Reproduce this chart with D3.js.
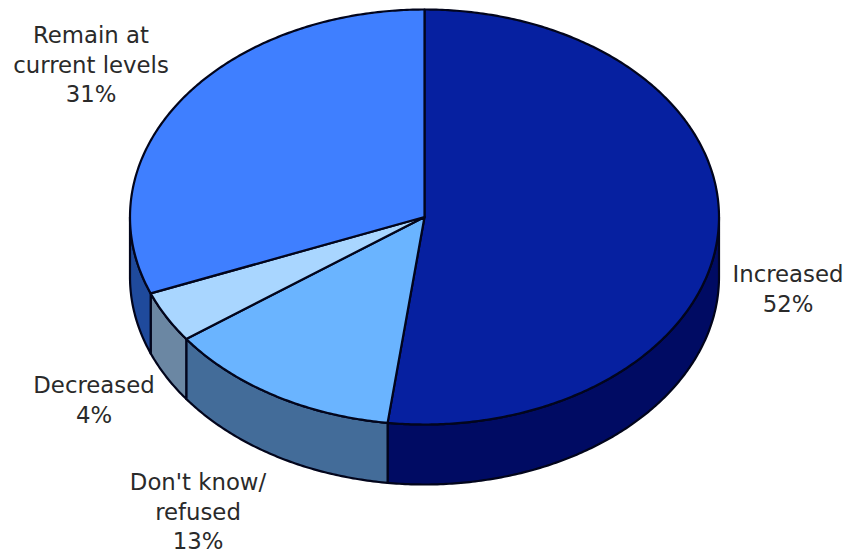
<!DOCTYPE html>
<html><head><meta charset="utf-8">
<script src="https://cdn.jsdelivr.net/npm/d3@7"></script>
<style>html,body{margin:0;background:#fff}svg{display:block}</style></head>
<body><script>
const categories = ["Increased","Don't know/refused","Decreased","Remain at current levels"];
const values = [52,13,4,31];
const topColors = ["#0620a0","#6ab4ff","#a9d6ff","#3f7fff"];
const sideColors = ["#000b63","#436c99","#6b87a3","#1f4a9c"];
const labelLines = [["Increased","52%"],["Don't know/","refused","13%"],["Decreased","4%"],["Remain at","current levels","31%"]];
const labelAnchors = [[788,282],[198,490],[94,393],[91,43]];

const W=851,H=553,cx=424.5,cy=217,rx=294.5,ry=207.5,depth=60;
const svg=d3.select("body").append("svg").attr("width",W).attr("height",H);
const arcs=d3.pie().sort(null).value(d=>d)(values);
const px=a=>cx+rx*Math.sin(a), py=a=>cy-ry*Math.cos(a);
const stroke="#02051c", sw=2.2;

function arcPoints(a0,a1,dy){
  const n=Math.max(2,Math.ceil(Math.abs(a1-a0)/0.01));
  return d3.range(n+1).map(i=>{const a=a0+(a1-a0)*i/n;return [px(a),py(a)+dy];});
}
const line=d3.line();
// side walls: only the front half (angles between PI/2 and 3PI/2) is visible
arcs.forEach((d,i)=>{
  const a0=Math.max(d.startAngle,Math.PI/2),a1=Math.min(d.endAngle,3*Math.PI/2);
  if(a1<=a0)return;
  const pts=arcPoints(a0,a1,0).concat(arcPoints(a1,a0,depth));
  svg.append("path").attr("d",line(pts)+"Z").attr("fill",sideColors[i])
    .attr("stroke",stroke).attr("stroke-width",sw).attr("stroke-linejoin","round");
});
// top slices
arcs.forEach((d,i)=>{
  const pts=[[cx,cy]].concat(arcPoints(d.startAngle,d.endAngle,0));
  svg.append("path").attr("d",line(pts)+"Z").attr("fill",topColors[i])
    .attr("stroke",stroke).attr("stroke-width",sw).attr("stroke-linejoin","round");
});
// labels
labelLines.forEach((ls,i)=>{
  const t=svg.append("text").attr("text-anchor","middle")
    .attr("font-family","'DejaVu Sans',sans-serif").attr("font-size",22.8).attr("fill","#2a2a2a");
  ls.forEach((s,j)=>t.append("tspan").attr("x",labelAnchors[i][0]).attr("y",labelAnchors[i][1]+j*29.7).text(s));
});
</script></body></html>
